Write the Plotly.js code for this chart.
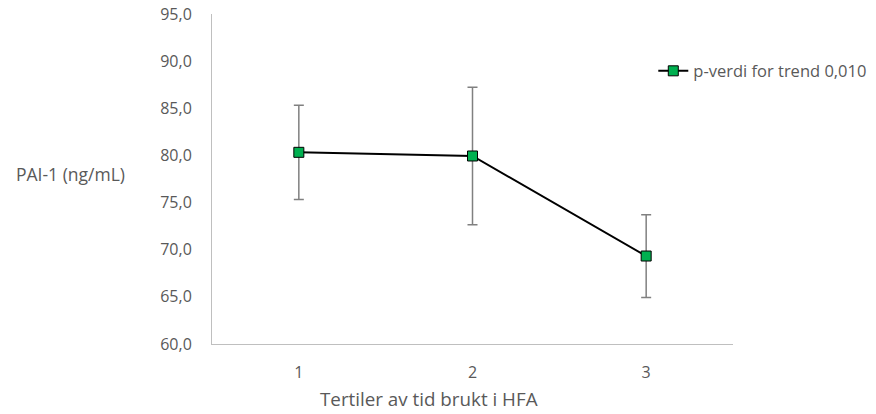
<!DOCTYPE html>
<html>
<head>
<meta charset="utf-8">
<script src="https://cdn.plot.ly/plotly-3.0.1.min.js"></script>
<style>
html,body{margin:0;padding:0;background:#fff;}
#chart{width:876px;height:414px;}
</style>
</head>
<body>
<div id="chart"></div>
<script>
const categories = ['1', '2', '3'];
const values = [80.33, 79.94, 69.33];
const errors = [5.0, 7.28, 4.39];
const seriesName = 'p-verdi for trend 0,010';
const yTickVals = [60, 65, 70, 75, 80, 85, 90, 95];

const fontFamily = '"Open Sans", Lato, sans-serif';
const textColor = '#595959';

const trace = {
  x: categories,
  y: values,
  type: 'scatter',
  mode: 'lines+markers',
  name: seriesName,
  line: {color: '#000000', width: 2},
  marker: {symbol: 'square', size: 10, color: '#00B050', line: {color: '#000000', width: 1}},
  error_y: {type: 'data', array: errors, visible: true, color: '#808080', thickness: 1.5, width: 5}
};

const layout = {
  width: 876,
  height: 414,
  margin: {l: 212, r: 143, t: 14, b: 70, pad: 0, autoexpand: false},
  paper_bgcolor: '#ffffff',
  plot_bgcolor: '#ffffff',
  separators: ', ',
  font: {family: fontFamily, size: 16, color: textColor},
  showlegend: true,
  legend: {
    x: 0.847, y: 0.827, xanchor: 'left', yanchor: 'middle',
    bgcolor: 'rgba(0,0,0,0)',
    font: {family: fontFamily, size: 16.5, color: textColor}
  },
  xaxis: {
    type: 'category',
    range: [-0.5, 2.5],
    showgrid: false,
    zeroline: false,
    showline: true,
    linecolor: '#BFBFBF',
    linewidth: 1,
    ticks: 'outside',
    ticklen: 14,
    tickcolor: 'rgba(0,0,0,0)',
    tickfont: {family: fontFamily, size: 16, color: textColor},
    fixedrange: true
  },
  yaxis: {
    range: [60, 95],
    tickvals: yTickVals,
    tickformat: '.1f',
    showgrid: false,
    zeroline: false,
    showline: true,
    linecolor: '#BFBFBF',
    linewidth: 1,
    ticks: 'outside',
    ticklen: 16,
    tickcolor: 'rgba(0,0,0,0)',
    tickfont: {family: fontFamily, size: 16, color: textColor},
    fixedrange: true
  },
  annotations: [
    {text: 'PAI-1 (ng/mL)', xref: 'paper', yref: 'paper', x: -0.272, y: 0.515,
     xanchor: 'center', yanchor: 'middle', showarrow: false,
     font: {family: fontFamily, size: 17.5, color: textColor}},
    {text: 'Tertiler av tid brukt i HFA', xref: 'paper', yref: 'paper', x: 0.4165, y: -0.168,
     xanchor: 'center', yanchor: 'middle', showarrow: false,
     font: {family: fontFamily, size: 18.8, color: textColor}}
  ]
};

Plotly.newPlot('chart', [trace], layout, {displayModeBar: false, staticPlot: true});
</script>
</body>
</html>
